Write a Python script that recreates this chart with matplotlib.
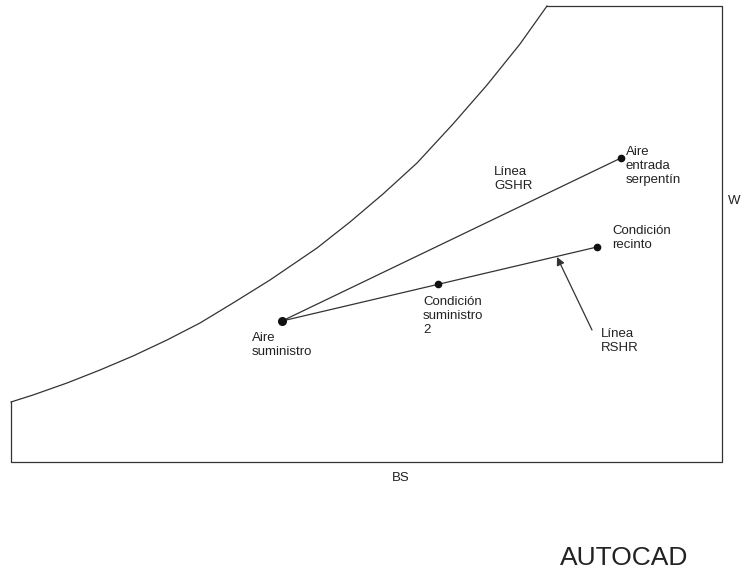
import numpy as np
import matplotlib.pyplot as plt

plt.rcParams['font.family'] = ['Liberation Sans', 'DejaVu Sans']

# curva de saturacion (coordenadas del dibujo, en pixeles)
curva_x = [11, 33, 67, 100, 133, 167, 200, 233, 270, 317, 350,
           383, 417, 453, 487, 520, 547]
curva_y = [402, 395, 383, 370, 356, 340, 323, 303, 280, 248, 222,
           194, 163, 124, 85, 44, 6]

# contorno del diagrama
borde_x = [547, 722, 722, 11, 11]
borde_y = [6, 6, 462, 462, 402]

# puntos del proceso
nombres = ['Aire\nsuministro', 'Condición\nsuministro\n2',
           'Condición\nrecinto', 'Aire\nentrada\nserpentín']
punto_x = [282, 438, 597, 621]
punto_y = [321, 284, 247, 158]

col = '#333333'

fig = plt.figure(figsize=(7.41, 5.71), dpi=100)
ax = fig.add_axes([0, 0, 1, 1])
ax.set_xlim(0, 741)
ax.set_ylim(571, 0)
ax.axis('off')

ax.plot(curva_x, curva_y, color=col, lw=0.9)
ax.plot(borde_x, borde_y, color=col, lw=0.9)

# lineas GSHR y RSHR
ax.plot([punto_x[0], punto_x[3]], [punto_y[0], punto_y[3]], color=col, lw=0.9)
ax.plot([punto_x[0], punto_x[2]], [punto_y[0], punto_y[2]], color=col, lw=0.9)

ax.plot(punto_x[0], punto_y[0], 'o', color='#111111', ms=5.5)
ax.plot(punto_x[1:], punto_y[1:], 'o', color='#111111', ms=4.5)

# flecha RSHR
ax.annotate('', xy=(557, 257), xytext=(592, 330),
            arrowprops=dict(arrowstyle='-|>', color=col, lw=0.9,
                            mutation_scale=12, shrinkA=0, shrinkB=0))

fs = 9.5
etiq_x = [252, 423, 612, 626]
etiq_y = [345, 316, 238, 166]
for n, x, y in zip(nombres, etiq_x, etiq_y):
    ax.text(x, y, n, fontsize=fs, ha='left', va='center', color='#222222')

ax.text(494, 179, 'Línea\nGSHR', fontsize=fs, ha='left', va='center', color='#222222')
ax.text(601, 341, 'Línea\nRSHR', fontsize=fs, ha='left', va='center', color='#222222')

ax.text(734, 201, 'W', fontsize=fs, ha='center', va='center', color='#222222')
ax.text(401, 478, 'BS', fontsize=fs, ha='center', va='center', color='#222222')
ax.text(624, 558, 'AUTOCAD', fontsize=19, ha='center', va='center', color='#222222')

plt.savefig('out.png', dpi=100)
